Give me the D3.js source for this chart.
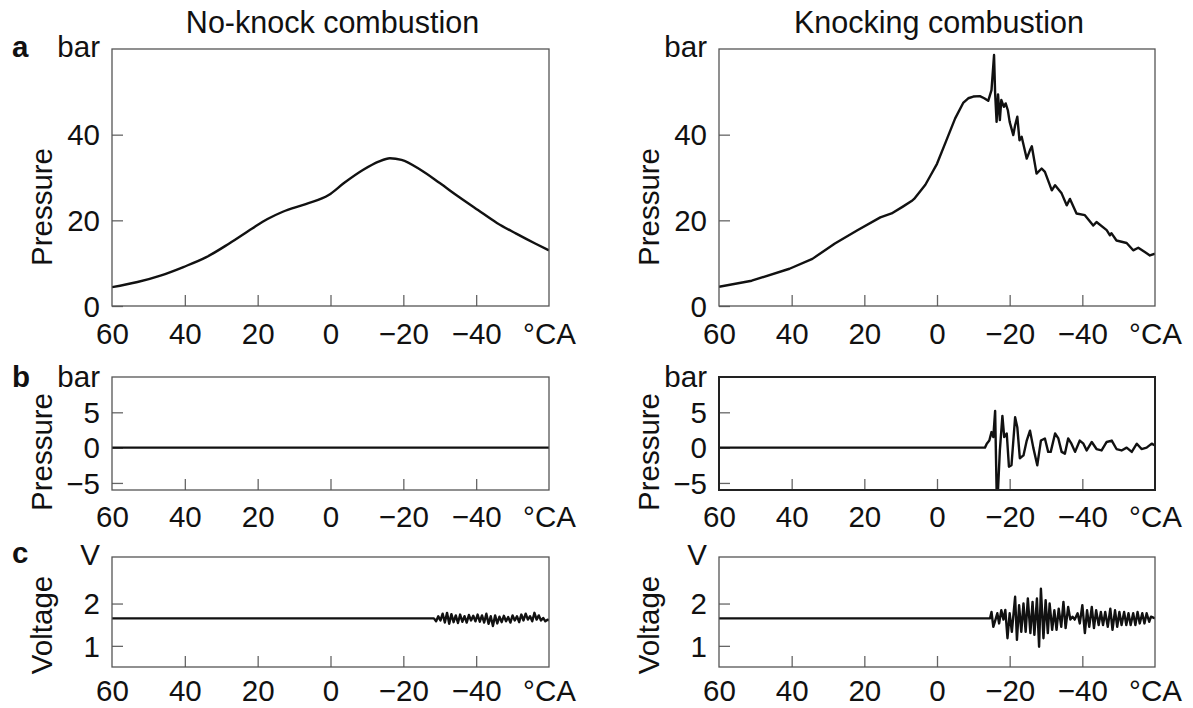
<!DOCTYPE html>
<html><head><meta charset="utf-8">
<script src="https://cdn.jsdelivr.net/npm/d3@7"></script>
<style>html,body{margin:0;padding:0;background:#fff}</style>
</head><body><svg id="c" width="1193" height="708"></svg>
<script>
// ---------------- DATA ----------------
const xTickValues = [60, 40, 20, 0, -20, -40, -60];
const xTickLabels = ["60", "40", "20", "0", "\u221220", "\u221240", "\u00B0CA"];

const titles = ["No-knock combustion", "Knocking combustion"];
const rowLetters = ["a", "b", "c"];
const rowUnits = ["bar", "bar", "V"];
const rowYLabels = ["Pressure", "Pressure", "Voltage"];
const rowTickValues = [[0, 20, 40], [-5, 0, 5], [1, 2]];
const rowTickLabels = [["0", "20", "40"], ["\u22125", "0", "5"], ["1", "2"]];

// a: cylinder pressure, no knock (bar)
const noKnockPAngle = [60, 53, 46.7, 40.4, 34.1, 27.8, 21.5, 17.3, 13.1, 6.8, 0.5, -3.7, -9, -13.2, -16.3, -19.5, -24.7, -30, -35.2, -40.5, -45.7, -51, -56.2, -60];
const noKnockP = [4.4, 5.6, 7.1, 9.1, 11.4, 14.6, 18.1, 20.3, 22.0, 23.8, 25.9, 28.7, 31.8, 33.7, 34.5, 34.1, 31.8, 28.7, 25.5, 22.4, 19.4, 16.9, 14.6, 13.0];

// a: cylinder pressure, knocking (bar)
const knockPAngle = [60, 51, 40.6, 34.3, 28.1, 21.9, 15.6, 12.5, 9.4, 7, 6.3, 3.2, 1.9, 0, -2.5, -5, -7.2, -8.6, -10, -11.8, -13, -14.1, -15.0, -15.7, -16.0, -16.4, -16.8, -17.3, -17.7, -18.4, -18.9, -19.5, -20.0, -21.0, -21.5, -22.1, -22.7, -23.3, -24.7, -25.6, -26.1, -27.4, -28.8, -29.7, -31.6, -32.5, -34.3, -35.7, -36.6, -38.4, -40.7, -43.0, -43.9, -46.7, -47.6, -48.0, -49.4, -52.2, -54.0, -55.4, -57.2, -58.6, -60];
const knockP = [4.5, 5.9, 8.7, 11.0, 14.6, 17.7, 20.7, 21.6, 23.2, 24.5, 25.0, 28.3, 30.3, 33.2, 38.5, 43.8, 47.4, 48.5, 48.9, 49.0, 48.5, 47.9, 50.4, 58.6, 49.6, 43.0, 49.4, 43.4, 48.1, 46.5, 47.3, 45.7, 43.0, 39.9, 42.2, 44.2, 38.7, 39.5, 34.4, 36.4, 37.3, 30.9, 32.1, 31.3, 27.0, 28.2, 26.3, 23.5, 25.0, 21.6, 21.2, 18.8, 19.6, 17.7, 16.5, 17.0, 15.3, 14.7, 13.0, 13.6, 12.6, 11.8, 12.2];

// b: filtered pressure, no knock (bar)
const noKnockFAngle = [60, -60];
const noKnockF = [0, 0];

// b: filtered pressure, knocking (bar)
const knockFAngle = [60, -13.2, -13.7, -14.4, -15.0, -15.5, -16.0, -16.4, -16.8, -17.3, -18.0, -18.5, -19.2, -19.8, -20.5, -21.5, -22.1, -22.8, -23.8, -24.7, -25.6, -26.5, -27.6, -28.6, -29.7, -30.6, -31.3, -32.5, -33.4, -34.3, -35.2, -36.1, -37.0, -38.0, -39.3, -40.3, -41.2, -42.6, -43.9, -45.3, -46.7, -48.1, -49.4, -50.8, -52.2, -53.6, -55.0, -56.3, -57.7, -59.1, -60];
const knockF = [0, 0, 0.56, 1.0, 2.2, 1.5, 5.2, -5.9, -5.9, -0.4, 4.5, 1.5, 2.0, -2.7, -2.5, 4.3, 2.9, -1.5, -1.1, 1.0, 2.4, 0, -2.5, 1.0, 1.3, -0.6, -0.6, 2.0, 1.3, -0.6, -0.85, 1.3, 0.56, -0.6, 1.0, 0.56, -0.4, 0.8, -0.2, -0.4, 0.8, 1.0, -0.2, -0.4, 0, -0.6, 0.56, -0.2, 0, 0.56, 0.3];

// c: knock sensor voltage, no knock (V)
const noKnockVAngle = [60, -28.4, -29.0, -29.6, -30.2, -30.8, -31.4, -32.0, -32.6, -33.2, -33.8, -34.4, -35.0, -35.6, -36.2, -36.8, -37.4, -38.0, -38.6, -39.2, -39.8, -40.4, -41.0, -41.6, -42.2, -42.8, -43.4, -44.0, -44.6, -45.2, -45.8, -46.4, -47.0, -47.6, -48.2, -48.8, -49.4, -50.0, -50.6, -51.2, -51.8, -52.4, -53.0, -53.6, -54.2, -54.8, -55.4, -56.0, -56.6, -57.2, -57.8, -58.4, -59.0, -59.6, -60];
const noKnockV = [1.65, 1.65, 1.58, 1.70, 1.60, 1.76, 1.55, 1.78, 1.52, 1.75, 1.56, 1.72, 1.54, 1.74, 1.57, 1.70, 1.55, 1.73, 1.60, 1.71, 1.58, 1.74, 1.57, 1.72, 1.55, 1.76, 1.52, 1.70, 1.47, 1.72, 1.53, 1.69, 1.56, 1.71, 1.58, 1.68, 1.55, 1.72, 1.60, 1.70, 1.56, 1.74, 1.60, 1.76, 1.62, 1.70, 1.58, 1.78, 1.62, 1.72, 1.60, 1.66, 1.58, 1.62, 1.60];

// c: knock sensor voltage, knocking (V)
const knockVAngle = [60, -14.6, -15.0, -15.5, -16.1, -16.6, -17.1, -17.7, -18.3, -18.8, -19.4, -20.0, -20.6, -21.5, -22.0, -22.6, -23.2, -23.8, -24.4, -25.0, -25.7, -26.3, -26.8, -27.5, -28.1, -28.6, -29.3, -29.9, -30.5, -31.0, -31.7, -32.3, -32.9, -33.5, -34.2, -34.8, -35.4, -36.1, -36.7, -37.3, -37.9, -38.7, -39.3, -40.0, -40.7, -41.3, -41.9, -42.6, -43.2, -43.8, -44.5, -45.1, -45.7, -46.3, -47.0, -47.7, -48.3, -49.0, -49.6, -50.2, -50.8, -51.5, -52.1, -52.7, -53.3, -54.0, -54.6, -55.2, -55.8, -56.5, -57.1, -57.7, -58.4, -58.9, -60];
const knockV = [1.65, 1.65, 1.80, 1.45, 1.62, 1.77, 1.53, 1.84, 1.62, 1.85, 1.18, 1.77, 1.33, 2.16, 1.14, 1.96, 1.33, 2.00, 1.33, 2.12, 1.30, 2.04, 1.26, 2.12, 0.98, 2.35, 1.18, 2.08, 1.30, 2.00, 1.38, 1.84, 1.38, 1.88, 1.45, 2.04, 1.42, 1.92, 1.62, 1.69, 1.62, 1.77, 1.53, 1.96, 1.30, 1.84, 1.45, 1.92, 1.42, 1.84, 1.49, 1.80, 1.49, 1.80, 1.45, 1.88, 1.38, 1.84, 1.45, 1.80, 1.49, 1.80, 1.49, 1.77, 1.49, 1.77, 1.49, 1.80, 1.53, 1.77, 1.53, 1.77, 1.57, 1.69, 1.65];

// ---------------- LAYOUT ----------------
const FONT = "'Liberation Sans', Arial, Helvetica, sans-serif";
const FS = 29.5;
const FS_TITLE = 30.5;
const cols = [{x0: 112, x1: 549}, {x0: 719, x1: 1155}];
const rows = [
  {y0: 49, y1: 306, dom: [0, 60], labelY: 207, letterY: 57, unitY: 57, xLab: 38},
  {y0: 377, y1: 490, dom: [-6, 10], labelY: 452, letterY: 387, unitY: 387, xLab: 37},
  {y0: 557, y1: 667, dom: [0.5, 3.1], labelY: 625, letterY: 563, unitY: 565, xLab: 34}
];
const series = [
  [[noKnockPAngle, noKnockP], [knockPAngle, knockP]],
  [[noKnockFAngle, noKnockF], [knockFAngle, knockF]],
  [[noKnockVAngle, noKnockV], [knockVAngle, knockV]]
];

const svg = d3.select("#c");
svg.append("rect").attr("width", 1193).attr("height", 708).attr("fill", "#fff");

cols.forEach((col, ci) => {
  svg.append("text").attr("x", (col.x0 + col.x1) / 2 + 2).attr("y", 33)
    .attr("text-anchor", "middle").attr("font-family", FONT).attr("font-size", FS_TITLE)
    .attr("fill", "#111").text(titles[ci]);

  rows.forEach((row, ri) => {
    const x = d3.scaleLinear().domain([60, -60]).range([col.x0, col.x1]);
    const y = d3.scaleLinear().domain(row.dom).range([row.y1, row.y0]);
    const g = svg.append("g");
    const clipId = `clip${ci}${ri}`;
    g.append("clipPath").attr("id", clipId).append("rect")
      .attr("x", col.x0).attr("y", row.y0).attr("width", col.x1 - col.x0).attr("height", row.y1 - row.y0);

    // axes
    const xa = g.append("g").attr("transform", `translate(0,${row.y1})`)
      .call(d3.axisBottom(x).tickValues(xTickValues).tickSize(-11).tickFormat((d, i) => xTickLabels[i]));
    xa.select(".domain").remove();
    xa.selectAll(".tick line").attr("stroke", "#666").attr("stroke-width", 1.3)
      .filter(d => Math.abs(d) === 60).remove();
    xa.attr("font-family", FONT).attr("font-size", FS);
    xa.selectAll(".tick text").attr("y", row.xLab).attr("dy", "0").attr("fill", "#111");

    const ya = g.append("g").attr("transform", `translate(${col.x0},0)`)
      .call(d3.axisLeft(y).tickValues(rowTickValues[ri]).tickSize(-11).tickPadding(12)
        .tickFormat((d, i) => rowTickLabels[ri][i]));
    ya.select(".domain").remove();
    ya.selectAll(".tick line").attr("stroke", "#666").attr("stroke-width", 1.3);
    ya.attr("font-family", FONT).attr("font-size", FS);
    ya.selectAll(".tick text").attr("dy", "0.35em").attr("fill", "#111");

    // data line
    const [ang, val] = series[ri][ci];
    const pts = ang.map((a, i) => [a, val[i]]);
    const line = d3.line().x(d => x(d[0])).y(d => y(d[1]))
      .curve(ri === 0 && ci === 0 ? d3.curveMonotoneX : d3.curveLinear);
    g.append("path").attr("d", line(pts)).attr("clip-path", `url(#${clipId})`)
      .attr("fill", "none").attr("stroke", "#111").attr("stroke-width", 2.4)
      .attr("stroke-linejoin", "round");

    // frame
    const heavy = (ri === 1 && ci === 1);
    g.append("rect").attr("x", col.x0).attr("y", row.y0)
      .attr("width", col.x1 - col.x0).attr("height", row.y1 - row.y0)
      .attr("fill", "none").attr("stroke", heavy ? "#222" : "#555").attr("stroke-width", heavy ? 2 : 1.3);

    // labels
    g.append("text").attr("x", col.x0 - 12).attr("y", row.unitY).attr("text-anchor", "end")
      .attr("font-family", FONT).attr("font-size", FS).attr("fill", "#111").text(rowUnits[ri]);
    g.append("text").attr("transform", `translate(${col.x0 - 60},${row.labelY}) rotate(-90)`)
      .attr("text-anchor", "middle").attr("font-family", FONT).attr("font-size", FS)
      .attr("fill", "#111").text(rowYLabels[ri]);
    if (ci === 0) {
      g.append("text").attr("x", 12).attr("y", row.letterY).attr("font-family", FONT)
        .attr("font-size", FS).attr("font-weight", "bold").attr("fill", "#111").text(rowLetters[ri]);
    }
  });
});
</script></body></html>
